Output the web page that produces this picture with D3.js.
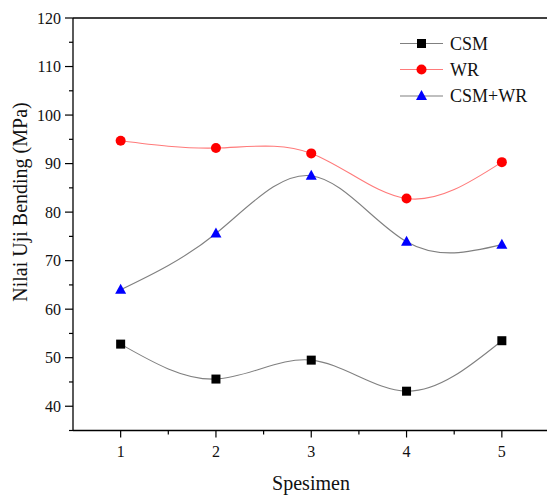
<!DOCTYPE html>
<html>
<head>
<meta charset="utf-8">
<script src="https://cdn.jsdelivr.net/npm/d3@7"></script>
<style>
  html, body { margin: 0; padding: 0; background: #fff; }
  svg { display: block; font-family: "Liberation Serif", "Times New Roman", serif; }
</style>
</head>
<body>
<svg id="chart" width="547" height="495"></svg>
<script>
const specimens = [1, 2, 3, 4, 5];
const csm = [52.8, 45.6, 49.5, 43.1, 53.5];
const wr = [94.7, 93.2, 92.1, 82.8, 90.3];
const csmwr = [64.0, 75.6, 87.5, 73.9, 73.3];
const yTicks = [40, 50, 60, 70, 80, 90, 100, 110, 120];
const xTicks = [1, 2, 3, 4, 5];
const seriesNames = ["CSM", "WR", "CSM+WR"];

(function () {
const svg = d3.select("#chart");
const pLeft = 73, pRight = 549.5, pTop = 18, pBottom = 430.5;

const x = d3.scaleLinear().domain([0.5, 5.5]).range([pLeft, pRight]);
const y = d3.scaleLinear().domain([35, 120]).range([pBottom, pTop]);

// frame top line
svg.append("line").attr("x1", pLeft).attr("x2", pRight).attr("y1", pTop).attr("y2", pTop)
  .attr("stroke", "#000").attr("stroke-width", 1.3);

// left axis
const yAxis = svg.append("g").attr("transform", `translate(${pLeft},0)`);
yAxis.append("line").attr("x1", 0).attr("x2", 0).attr("y1", pTop).attr("y2", pBottom)
  .attr("stroke", "#000").attr("stroke-width", 1.3);
const yMinor = d3.range(35, 121, 5);
yAxis.selectAll("line.minor").data(yMinor).enter().append("line")
  .attr("x1", d => d % 10 === 0 ? -8 : -4).attr("x2", 0)
  .attr("y1", d => y(d)).attr("y2", d => y(d))
  .attr("stroke", "#000").attr("stroke-width", 1.2);
yAxis.selectAll("text").data(yTicks).enter().append("text")
  .attr("x", -12).attr("y", d => y(d)).attr("dy", "0.35em")
  .attr("text-anchor", "end").attr("font-size", 16).attr("fill", "#111")
  .text(d => d);

// bottom axis
const xAxis = svg.append("g").attr("transform", `translate(0,${pBottom})`);
xAxis.append("line").attr("x1", pLeft).attr("x2", pRight).attr("y1", 0).attr("y2", 0)
  .attr("stroke", "#000").attr("stroke-width", 1.3);
const xMinor = d3.range(1, 5.6, 0.5);
xAxis.selectAll("line.t").data(xMinor).enter().append("line")
  .attr("x1", d => x(d)).attr("x2", d => x(d))
  .attr("y1", 0).attr("y2", d => Number.isInteger(d) ? 7 : 4)
  .attr("stroke", "#000").attr("stroke-width", 1.2);
xAxis.selectAll("text").data(xTicks).enter().append("text")
  .attr("x", d => x(d)).attr("y", 26)
  .attr("text-anchor", "middle").attr("font-size", 16).attr("fill", "#111")
  .text(d => d);

// axis titles
svg.append("text").attr("x", 311).attr("y", 490).attr("text-anchor", "middle")
  .attr("font-size", 20).attr("fill", "#111").text("Spesimen");
svg.append("text").attr("transform", "translate(27,202) rotate(-90)")
  .attr("text-anchor", "middle").attr("font-size", 20).attr("fill", "#111")
  .text("Nilai Uji Bending (MPa)");

const line = d3.line().x(d => x(d[0])).y(d => y(d[1])).curve(d3.curveNatural);
const series = [
  { name: seriesNames[0], values: csm, stroke: "#808080", marker: "square", color: "#000" },
  { name: seriesNames[1], values: wr, stroke: "#ff7a7a", marker: "circle", color: "#ff0000" },
  { name: seriesNames[2], values: csmwr, stroke: "#808080", marker: "triangle", color: "#0000ff" }
];

function drawMarker(g, type, cx, cy, color) {
  if (type === "square") {
    g.append("rect").attr("x", cx - 4.5).attr("y", cy - 4.5).attr("width", 9).attr("height", 9).attr("fill", color);
  } else if (type === "circle") {
    g.append("circle").attr("cx", cx).attr("cy", cy).attr("r", 5).attr("fill", color);
  } else {
    g.append("path").attr("d", `M${cx},${cy - 6}L${cx + 5.5},${cy + 4}L${cx - 5.5},${cy + 4}Z`).attr("fill", color);
  }
}

series.forEach(s => {
  const pts = specimens.map((d, i) => [d, s.values[i]]);
  svg.append("path").datum(pts).attr("d", line).attr("fill", "none")
    .attr("stroke", s.stroke).attr("stroke-width", 1.1);
  const g = svg.append("g");
  pts.forEach(p => drawMarker(g, s.marker, x(p[0]), y(p[1]), s.color));
});

// legend
const legY = [43.5, 69.5, 96];
series.forEach((s, i) => {
  const g = svg.append("g");
  g.append("line").attr("x1", 400).attr("x2", 443).attr("y1", legY[i]).attr("y2", legY[i])
    .attr("stroke", s.stroke).attr("stroke-width", 1.1);
  drawMarker(g, s.marker, 421.5, legY[i], s.color);
  g.append("text").attr("x", 450).attr("y", legY[i]).attr("dy", "0.35em")
    .attr("font-size", 18).attr("fill", "#111").text(s.name);
});
})();
</script>
</body>
</html>
